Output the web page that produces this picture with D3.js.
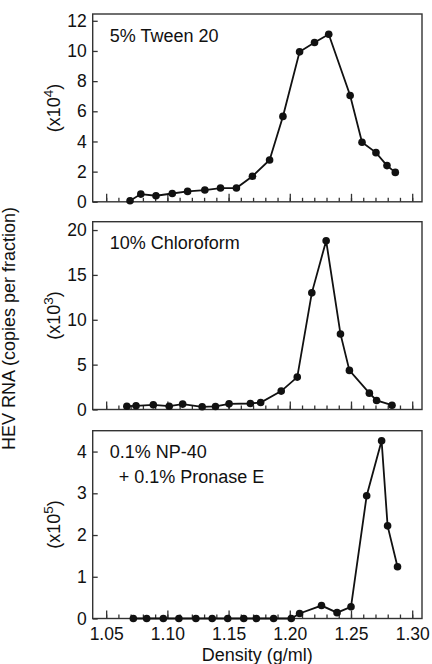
<!DOCTYPE html>
<html>
<head>
<meta charset="utf-8">
<script src="https://cdn.jsdelivr.net/npm/d3@7"></script>
<style>
  body { margin: 0; background: #fff; }
</style>
</head>
<body>
<div id="chart"></div>
<script>
// Values (density in g/ml, copies per fraction in the panel's unit)
const tweenDensity = [1.0695, 1.0783, 1.0907, 1.1040, 1.1165, 1.1306, 1.1434, 1.1564, 1.1695, 1.1835,
                      1.1944, 1.2080, 1.2202, 1.2318, 1.2493, 1.2590, 1.2704, 1.2794, 1.2862];
const tweenValue   = [0.07, 0.51, 0.40, 0.55, 0.69, 0.78, 0.91, 0.91, 1.69, 2.77,
                      5.66, 9.94, 10.56, 11.11, 7.05, 3.95, 3.26, 2.40, 1.95];

const chloroDensity = [1.0669, 1.0744, 1.0885, 1.1015, 1.1125, 1.1284, 1.1393, 1.1504, 1.1678, 1.1762,
                       1.1930, 1.2061, 1.2180, 1.2297, 1.2414, 1.2487, 1.2650, 1.2709, 1.2835];
const chloroValue   = [0.37, 0.41, 0.52, 0.37, 0.60, 0.30, 0.34, 0.63, 0.67, 0.78,
                       2.05, 3.61, 13.0, 18.81, 8.42, 4.36, 1.82, 1.01, 0.48];

const npDensity = [1.0722, 1.0831, 1.0967, 1.1094, 1.1233, 1.1366, 1.1493, 1.1624, 1.1727, 1.1868,
                   1.2012, 1.2080, 1.2259, 1.2386, 1.2500, 1.2628, 1.2750, 1.2799, 1.2880];
const npValue   = [0, 0, 0, 0, 0, 0, 0, 0, 0, 0,
                   0, 0.12, 0.31, 0.14, 0.28, 2.94, 4.26, 2.22, 1.24];

const panelLabels = [["5% Tween 20"], ["10% Chloroform"], ["0.1% NP-40", " + 0.1% Pronase E"]];
const exponents   = ["4", "3", "5"];
const yTickSets   = [[0, 2, 4, 6, 8, 10, 12], [0, 5, 10, 15, 20], [0, 1, 2, 3, 4]];
const yTops       = [12.45, 20.93, 4.5];
const xMajorTicks = [1.05, 1.10, 1.15, 1.20, 1.25, 1.30];
const xMinorTicks = d3.range(105, 131).map(d => d / 100);
const xLabel = "Density (g/ml)";
const yLabel = "HEV RNA (copies per fraction)";

const panels = [
  {density: tweenDensity, value: tweenValue},
  {density: chloroDensity, value: chloroValue},
  {density: npDensity, value: npValue},
];

const width = 432, height = 664;
const plotLeft = 92.7, plotRight = 422;
const panelTops = [14, 221.7, 430.7];
const panelH = 187.8;
const font = "'Liberation Sans', Arial, Helvetica, sans-serif";
const ink = "#111";
const frameColor = "#333";

const svg = d3.select("#chart").append("svg")
  .attr("width", width).attr("height", height)
  .style("font-family", font);

const x = d3.scaleLinear().domain([1.039, 1.308]).range([plotLeft, plotRight]);

panels.forEach((p, i) => {
  const top = panelTops[i];
  const y = d3.scaleLinear().domain([0, yTops[i]]).range([top + panelH, top]);
  const g = svg.append("g");

  // frame
  g.append("rect")
    .attr("x", plotLeft).attr("y", top)
    .attr("width", plotRight - plotLeft).attr("height", panelH)
    .attr("fill", "none").attr("stroke", frameColor).attr("stroke-width", 1.4);

  // y axis, ticks pointing inward
  const ya = g.append("g").attr("transform", `translate(${plotLeft},0)`)
    .call(d3.axisLeft(y).tickValues(yTickSets[i]).tickFormat(d3.format("d"))
      .tickSizeInner(-5).tickSizeOuter(0).tickPadding(6));
  ya.select(".domain").remove();
  ya.selectAll("line").attr("stroke", frameColor).attr("stroke-width", 1.3);
  ya.selectAll("text").attr("font-size", 17.5).attr("fill", ink).style("font-family", font);

  // x axis: minor and major ticks pointing inward
  const xm = g.append("g").attr("transform", `translate(0,${top + panelH})`)
    .call(d3.axisBottom(x).tickValues(xMinorTicks).tickSizeInner(-4).tickSizeOuter(0).tickFormat(""));
  xm.select(".domain").remove();
  xm.selectAll("line").attr("stroke", frameColor).attr("stroke-width", 1.3);

  const xa = g.append("g").attr("transform", `translate(0,${top + panelH})`)
    .call(d3.axisBottom(x).tickValues(xMajorTicks).tickSizeInner(-8).tickSizeOuter(0)
      .tickPadding(9).tickFormat(i === 2 ? d3.format(".2f") : ""));
  xa.select(".domain").remove();
  xa.selectAll("line").attr("stroke", frameColor).attr("stroke-width", 1.3);
  xa.selectAll("text").attr("font-size", 17.5).attr("fill", ink).style("font-family", font);

  // data line and dots
  const pts = p.density.map((d, k) => [d, p.value[k]]);
  g.append("path")
    .attr("d", d3.line().x(d => x(d[0])).y(d => y(d[1]))(pts))
    .attr("fill", "none").attr("stroke", ink).attr("stroke-width", 1.8);
  g.selectAll("circle").data(pts).join("circle")
    .attr("cx", d => x(d[0])).attr("cy", d => y(d[1]))
    .attr("r", 3.8).attr("fill", ink);

  // treatment label
  const t = g.append("text")
    .attr("x", plotLeft + 17).attr("y", top + 27.5)
    .attr("font-size", 18).attr("fill", ink);
  panelLabels[i].forEach((line, k) => {
    t.append("tspan").attr("x", plotLeft + 17 + (k ? 4 : 0)).attr("dy", k ? 25 : 0)
      .style("white-space", "pre").text(line);
  });

  // exponent label
  const cy = top + panelH / 2;
  const e = g.append("text")
    .attr("transform", `translate(59.5,${cy}) rotate(-90)`)
    .attr("text-anchor", "middle").attr("font-size", 18).attr("fill", ink);
  e.append("tspan").text("(x10");
  e.append("tspan").attr("font-size", 13.5).attr("dy", -7).text(exponents[i]);
  e.append("tspan").attr("dy", 7).text(")");
});

// shared axis titles
svg.append("text")
  .attr("x", (plotLeft + plotRight) / 2).attr("y", 661)
  .attr("text-anchor", "middle").attr("font-size", 18).attr("fill", ink)
  .text(xLabel);

svg.append("text")
  .attr("transform", `translate(15,328.5) rotate(-90)`)
  .attr("text-anchor", "middle").attr("font-size", 18).attr("fill", ink)
  .text(yLabel);
</script>
</body>
</html>
